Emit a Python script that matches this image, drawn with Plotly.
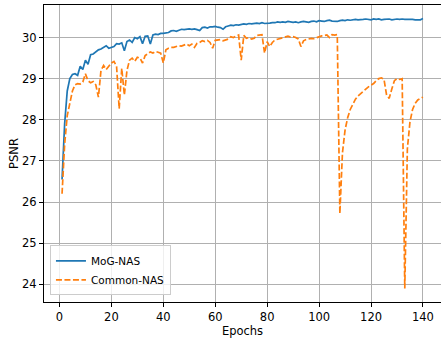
import plotly.graph_objects as go

epochs = list(range(1, 141))

mog_nas = [
    26.55, 27.9, 28.7, 29.0, 29.1, 29.12, 29.08, 29.3, 29.22, 29.45,
    29.35, 29.58, 29.6, 29.66, 29.7, 29.72, 29.76, 29.8, 29.74, 29.76,
    29.78, 29.85, 29.84, 29.87, 29.68, 29.9, 29.94, 29.88, 30.0, 29.97,
    30.02, 29.85, 30.03, 30.04, 29.84, 30.06, 30.08, 30.07, 30.1, 30.1,
    30.11, 30.12, 30.16, 30.17, 30.15, 30.18, 30.2, 30.19, 30.2, 30.21,
    30.2, 30.21, 30.19, 30.17, 30.24, 30.25, 30.23, 30.26, 30.26, 30.27,
    30.25, 30.24, 30.2, 30.26, 30.28, 30.3, 30.29, 30.31, 30.3, 30.32,
    30.33, 30.32, 30.34, 30.33, 30.34, 30.35, 30.34, 30.36, 30.34, 30.34,
    30.35, 30.36, 30.36, 30.38, 30.37, 30.38, 30.37, 30.39, 30.38, 30.37,
    30.38, 30.36, 30.38, 30.39, 30.38, 30.37, 30.39, 30.4, 30.38, 30.41,
    30.4, 30.39, 30.41, 30.42, 30.4, 30.4, 30.39, 30.41, 30.42, 30.41,
    30.43, 30.42, 30.43, 30.44, 30.43, 30.43, 30.44, 30.45, 30.44, 30.43,
    30.45, 30.44, 30.45, 30.43, 30.44, 30.44, 30.45, 30.43, 30.44, 30.45,
    30.44, 30.45, 30.44, 30.44, 30.45, 30.44, 30.43, 30.43, 30.43, 30.46,
]

common_nas = [
    26.2, 27.4, 28.1, 28.45, 28.7, 28.85, 28.88, 28.87, 28.92, 29.12,
    28.95, 28.9, 28.93, 28.85, 28.55, 29.2, 29.32, 29.22, 29.3, 29.38,
    29.42, 29.3, 28.27, 29.25, 28.6, 29.2, 29.45, 29.5, 29.42, 29.52,
    29.5, 29.38, 29.56, 29.6, 29.65, 29.62, 29.66, 29.64, 29.62, 29.38,
    29.7, 29.74, 29.76, 29.76, 29.78, 29.8, 29.79, 29.82, 29.84, 29.8,
    29.84, 29.76, 29.86, 29.88, 29.92, 29.9, 29.93, 29.88, 29.74, 29.93,
    29.94, 29.95, 29.92, 29.94, 29.96, 30.02, 30.0, 30.03, 30.06, 29.45,
    30.05, 29.98, 30.0, 29.96, 29.98, 30.05, 30.06, 30.07, 29.62, 29.9,
    29.78, 29.88, 29.94, 29.96, 29.98, 30.0, 30.02, 30.03, 30.01, 30.02,
    30.0, 29.96, 29.78, 29.92, 29.95, 29.96, 29.98, 29.97, 30.0, 30.03,
    30.04, 30.05, 30.06, 30.0, 30.07, 30.06, 30.07, 25.72, 27.2, 27.75,
    28.05, 28.25, 28.38, 28.5, 28.58, 28.64, 28.7, 28.75, 28.8, 28.84,
    28.88, 28.95, 29.0, 29.02, 28.98, 28.6, 28.52, 28.75, 28.95, 29.0,
    28.98, 29.0, 23.9, 27.3, 27.95, 28.25, 28.4, 28.48, 28.52, 28.55,
]

x_ticks = [0, 20, 40, 60, 80, 100, 120, 140]
y_ticks = [24, 25, 26, 27, 28, 29, 30]

fig = go.Figure()
fig.add_trace(go.Scatter(x=epochs, y=mog_nas, mode="lines", name="MoG-NAS",
                         line=dict(color="#1f77b4", width=1.7)))
fig.add_trace(go.Scatter(x=epochs, y=common_nas, mode="lines", name="Common-NAS",
                         line=dict(color="#ff7f0e", width=1.7, dash="6px,2.5px")))

axis_common = dict(showline=True, mirror=True, linecolor="black", linewidth=1,
                   ticks="outside", ticklen=4, tickcolor="black", tickwidth=1,
                   showgrid=True, gridcolor="#b0b0b0", gridwidth=1,
                   zeroline=False, automargin=False,
                   tickfont=dict(size=11.5, color="black"))

fig.update_xaxes(range=[-5.95, 146.95], tickvals=x_ticks,
                 title=dict(text="Epochs", font=dict(size=11.5, color="black"), standoff=4),
                 **axis_common)
fig.update_yaxes(range=[23.57, 30.79], tickvals=y_ticks,
                 title=dict(text="PSNR", font=dict(size=11.5, color="black"), standoff=1),
                 **axis_common)

fig.update_layout(
    width=441, height=339,
    margin=dict(l=44, r=0, t=5, b=37, autoexpand=False),
    paper_bgcolor="white", plot_bgcolor="white",
    font=dict(family="DejaVu Sans", size=11.5, color="black"),
    legend=dict(x=0.015, y=0.022, xanchor="left", yanchor="bottom",
                bgcolor="rgba(255,255,255,0.8)", bordercolor="#cccccc", borderwidth=1,
                font=dict(size=10.5), itemwidth=30, tracegroupgap=0),
    showlegend=True,
)

fig.write_html("out.html", config={"displayModeBar": False},
               post_script="document.body.style.margin='0';document.body.style.overflow='hidden';")
